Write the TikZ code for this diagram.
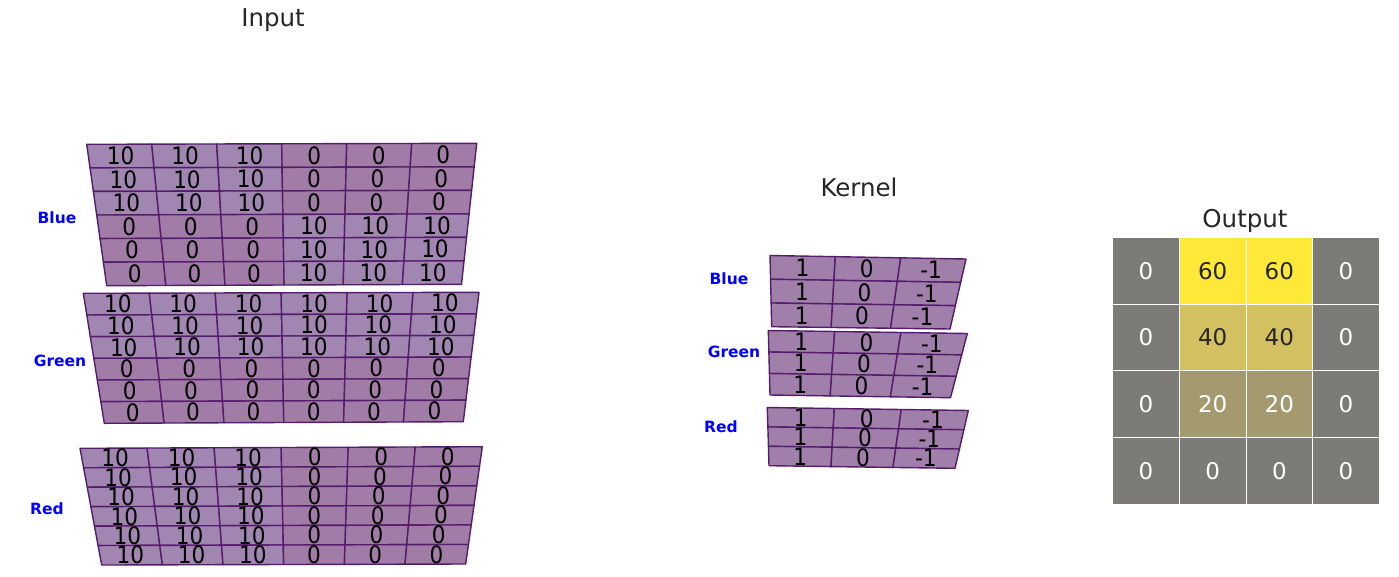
\documentclass[tikz,border=0pt]{standalone}
\usepackage{fontspec}
\usepackage{graphicx}
\setmainfont{DejaVu Sans}
\usetikzlibrary{calc}
\definecolor{hi}{RGB}{160,134,176}
\definecolor{lo}{RGB}{161,124,166}
\definecolor{kc}{RGB}{160,127,170}
\definecolor{edge}{RGB}{85,28,108}
\definecolor{ttl}{RGB}{38,38,38}
\definecolor{og}{RGB}{124,123,120}
\definecolor{o20}{RGB}{164,154,112}
\definecolor{o40}{RGB}{211,192,96}
\definecolor{o60}{RGB}{254,232,56}
\tikzset{
  cell/.style={draw=edge, line width=1.4pt, line join=round},
  num/.style={inner sep=0pt, font=\fontsize{24}{24}\selectfont, text=black},
  lab/.style={font=\fontsize{15.5}{16}\selectfont\bfseries, text=blue},
  ttlstyle/.style={font=\fontsize{24.5}{25}\selectfont, text=ttl},
  ocell/.style={draw=white, line width=1pt, minimum width=66.65pt, minimum height=66.6pt, inner sep=0pt, font=\fontsize{23}{23}\selectfont}
}
\newcommand\cellnum[1]{\scalebox{0.9}[1]{#1}}
% #1 prefix, #2 rows, #3 cols, #4 row lists, #5 fill for 10, #6 fill otherwise
\newcommand\pgrid[6]{%
  \foreach \row [count=\r] in {#4} {
    \foreach \val [count=\c] in \row {
      \pgfmathsetmacro\ua{(\c-1)/#3}\pgfmathsetmacro\ub{\c/#3}
      \pgfmathsetmacro\va{(\r-1)/#2}\pgfmathsetmacro\vb{\r/#2}
      \coordinate (qa) at ($($(#1TL)!\ua!(#1TR)$)!\va!($(#1BL)!\ua!(#1BR)$)$);
      \coordinate (qb) at ($($(#1TL)!\ub!(#1TR)$)!\va!($(#1BL)!\ub!(#1BR)$)$);
      \coordinate (qc) at ($($(#1TL)!\ub!(#1TR)$)!\vb!($(#1BL)!\ub!(#1BR)$)$);
      \coordinate (qd) at ($($(#1TL)!\ua!(#1TR)$)!\vb!($(#1BL)!\ua!(#1BR)$)$);
      \ifnum\val=10 \def\fc{#5}\else\def\fc{#6}\fi
      \filldraw[cell, fill=\fc] (qa) -- (qb) -- (qc) -- (qd) -- cycle;
    }
  }
  \foreach \row [count=\r] in {#4} {
    \foreach \val [count=\c] in \row {
      \pgfmathsetmacro\um{(\c-0.5)/#3}\pgfmathsetmacro\vm{(\r-0.5)/#2}
      \node[num] (#1-\r-\c) at ($($(#1TL)!\um!(#1TR)$)!\vm!($(#1BL)!\um!(#1BR)$)$) {\cellnum{\val}};
    }
  }
}
\begin{document}
\begin{tikzpicture}[x=1pt,y=-1pt]
\path[use as bounding box] (0,0) rectangle (1399,576);

% titles
\node[ttlstyle] (tin) at (273,20) {Input};
\node[ttlstyle] (tk) at (859,187) {Kernel};
\node[ttlstyle] (tout) at (1245,221) {Output};

% input grids
\coordinate (ibTL) at (86.7,144.3); \coordinate (ibTR) at (476.7,143.3);
\coordinate (ibBL) at (106.7,285.7); \coordinate (ibBR) at (461.5,284.3);
\pgrid{ib}{6}{6}{{10,10,10,0,0,0},{10,10,10,0,0,0},{10,10,10,0,0,0},{0,0,0,10,10,10},{0,0,0,10,10,10},{0,0,0,10,10,10}}{hi}{lo}

\coordinate (igTL) at (83.3,293.3); \coordinate (igTR) at (479,292.3);
\coordinate (igBL) at (104.3,423.3); \coordinate (igBR) at (463.3,421.7);
\pgrid{ig}{6}{6}{{10,10,10,10,10,10},{10,10,10,10,10,10},{10,10,10,10,10,10},{0,0,0,0,0,0},{0,0,0,0,0,0},{0,0,0,0,0,0}}{hi}{lo}

\coordinate (irTL) at (80,448.3); \coordinate (irTR) at (482.3,446.7);
\coordinate (irBL) at (101.7,565); \coordinate (irBR) at (465.7,564);
\pgrid{ir}{6}{6}{{10,10,10,0,0,0},{10,10,10,0,0,0},{10,10,10,0,0,0},{10,10,10,0,0,0},{10,10,10,0,0,0},{10,10,10,0,0,0}}{hi}{lo}

\node[lab] (lib) at (57,218) {Blue};
\node[lab] (lig) at (60,361) {Green};
\node[lab] (lir) at (47,509) {Red};

% kernel grids
\coordinate (kbTL) at (770,255.5); \coordinate (kbTR) at (966,259);
\coordinate (kbBL) at (771.7,326.7); \coordinate (kbBR) at (950,329);
\pgrid{kb}{3}{3}{{1,0,-1},{1,0,-1},{1,0,-1}}{kc}{kc}

\coordinate (kgTL) at (768.3,330.5); \coordinate (kgTR) at (967.3,333.5);
\coordinate (kgBL) at (770,395); \coordinate (kgBR) at (950.5,397.7);
\pgrid{kg}{3}{3}{{1,0,-1},{1,0,-1},{1,0,-1}}{kc}{kc}

\coordinate (krTL) at (767.3,407.5); \coordinate (krTR) at (968.3,410.5);
\coordinate (krBL) at (769,465.7); \coordinate (krBR) at (955,468.3);
\pgrid{kr}{3}{3}{{1,0,-1},{1,0,-1},{1,0,-1}}{kc}{kc}

\node[lab] (lkb) at (729,279) {Blue};
\node[lab] (lkg) at (734,352) {Green};
\node[lab] (lkr) at (721,427) {Red};

% output grid
\foreach \row [count=\r] in {{og/0/white,o60/60/ttl,o60/60/ttl,og/0/white},{og/0/white,o40/40/ttl,o40/40/ttl,og/0/white},{og/0/white,o20/20/white,o20/20/white,og/0/white},{og/0/white,og/0/white,og/0/white,og/0/white}} {
  \foreach \f/\v/\t [count=\c] in \row {
    \node[ocell, fill=\f, text=\t] (o-\r-\c) at ({1112.7+66.65*(\c-0.5)},{237.7+66.6*(\r-0.5)}) {\v};
  }
}
\end{tikzpicture}
\end{document}
